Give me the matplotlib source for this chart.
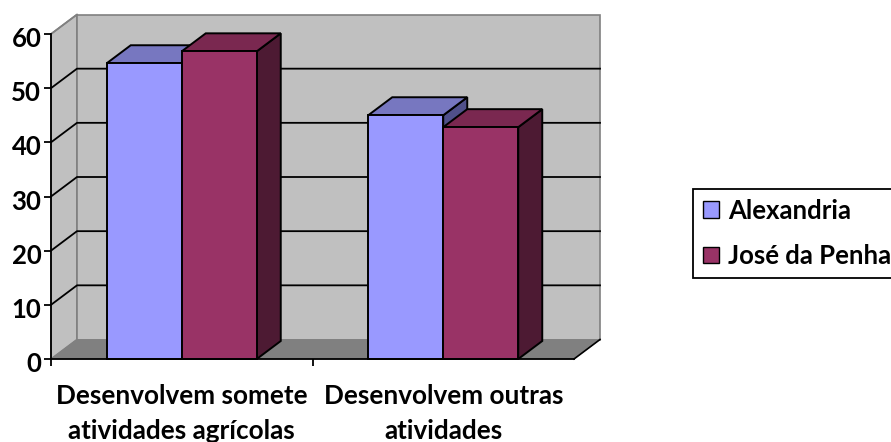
import matplotlib
matplotlib.use("Agg")
import matplotlib.pyplot as plt
from matplotlib.patches import Polygon, Patch
from matplotlib.transforms import ScaledTranslation

plt.rcParams['font.family'] = ['Lato', 'DejaVu Sans']
plt.rcParams['font.weight'] = 'bold'

categories = ["Desenvolvem somete\natividades agrícolas", "Desenvolvem outras\natividades"]
series_names = ["Alexandria", "José da Penha"]
alexandria = [54.6, 45.0]
jose_da_penha = [56.8, 42.8]
y_ticks = [0, 10, 20, 30, 40, 50, 60]

W, H = 891, 442
fig = plt.figure(figsize=(W / 100, H / 100), dpi=100, facecolor="white")
ax = fig.add_axes([51 / W, (H - 359) / H, 523 / W, 325 / H])
ax.set_xlim(0, 2)
ax.set_ylim(0, 60)
ax.patch.set_visible(False)

WALL_DX = 26 / 261.5
WALL_DY = 19.5 / (325 / 60)
BAR_DX = 24 / 261.5
BAR_DY = 18 / (325 / 60)
BAR_W = 75 / 261.5


def poly(points, face, edge="black", lw=1.4, z=2):
    ax.add_patch(Polygon(points, closed=True, facecolor=face, edgecolor=edge,
                         linewidth=lw, zorder=z, clip_on=False, joinstyle="miter"))


# walls and floor
poly([(0, 0), (WALL_DX, WALL_DY), (WALL_DX, 60 + WALL_DY), (0, 60)], "#C0C0C0", "#808080", 1.2, 1)
poly([(WALL_DX, WALL_DY), (2 + WALL_DX, WALL_DY), (2 + WALL_DX, 60 + WALL_DY),
      (WALL_DX, 60 + WALL_DY)], "#C0C0C0", "#808080", 1.2, 1)
poly([(0, 0), (2, 0), (2 + WALL_DX, WALL_DY), (WALL_DX, WALL_DY)], "#808080", "#808080", 0.5, 1)
ax.plot([2, 2 + WALL_DX], [0, WALL_DY], color="black", lw=1.2, zorder=1.5, clip_on=False)

# gridlines on back and side walls
for t in y_ticks[1:-1]:
    ax.plot([0, WALL_DX, 2 + WALL_DX], [t, t + WALL_DY, t + WALL_DY],
            color="black", lw=1.3, zorder=1.5, clip_on=False)
ax.plot([0, WALL_DX], [60, 60 + WALL_DY], color="#808080", lw=1.2, zorder=1.5, clip_on=False)


def bar3d(x0, value, front, top, side, z):
    x1 = x0 + BAR_W
    poly([(x1, 0), (x1 + BAR_DX, BAR_DY), (x1 + BAR_DX, value + BAR_DY), (x1, value)], side, z=z)
    poly([(x0, value), (x1, value), (x1 + BAR_DX, value + BAR_DY), (x0 + BAR_DX, value + BAR_DY)], top, z=z)
    poly([(x0, 0), (x1, 0), (x1, value), (x0, value)], front, z=z)


for i, (a, j) in enumerate(zip(alexandria, jose_da_penha)):
    x_left = i + 0.5 - BAR_W
    bar3d(x_left, a, "#9999FF", "#7777C0", "#50508A", 3 + i)
    bar3d(x_left + BAR_W, j, "#993366", "#7A2850", "#4D1A33", 3.5 + i)

# axes
for s in ("top", "right"):
    ax.spines[s].set_visible(False)
for s in ("left", "bottom"):
    ax.spines[s].set_linewidth(1.3)
    ax.spines[s].set_zorder(6)
ax.set_yticks(y_ticks)
ax.set_xticks([0, 1])
ax.set_xticklabels([])
ax.set_xticks([0.5, 1.5], labels=categories, minor=True)
ax.tick_params(axis="x", which="minor", length=0, pad=18, labelsize=18.8)
ax.tick_params(axis="x", which="major", length=5, width=1.3)
ax.tick_params(axis="y", length=5, width=1.3, pad=2, labelsize=18.5)
for lab in ax.get_xticklabels(minor=True):
    lab.set_linespacing(1.55)
y_label_shift = ScaledTranslation(0, -3 / 100, fig.dpi_scale_trans)
for lab in ax.get_yticklabels():
    lab.set_transform(lab.get_transform() + y_label_shift)

# legend
handles = [Patch(facecolor="#9999FF", edgecolor="black", label=series_names[0]),
           Patch(facecolor="#993366", edgecolor="black", label=series_names[1])]
leg = fig.legend(handles=handles, loc="upper left",
                 bbox_to_anchor=(693 / W, (H - 189) / H), bbox_transform=fig.transFigure,
                 fontsize=18.5, frameon=True, fancybox=False, framealpha=1, edgecolor="black",
                 handlelength=0.62, handleheight=0.62, handletextpad=0.38,
                 labelspacing=0.83, borderpad=0.38, borderaxespad=0)
leg.get_frame().set_linewidth(1.3)

fig.savefig("out.png", dpi=100, facecolor="white")
